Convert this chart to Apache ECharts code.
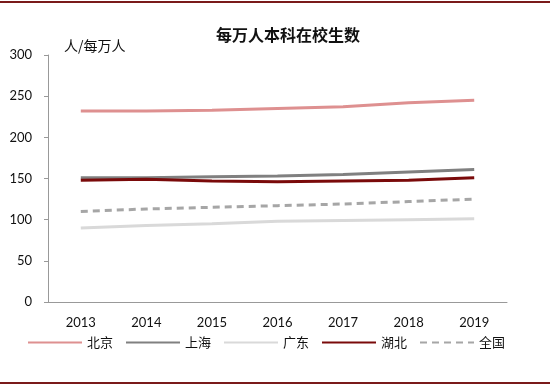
<!DOCTYPE html>
<html><head><meta charset="utf-8">
<script src="https://cdn.jsdelivr.net/npm/echarts@6/dist/echarts.min.js"></script>
<style>html,body{margin:0;padding:0;background:#fff}#c{width:550px;height:387px}</style>
</head><body><div id="c"></div>
<script>
const years = ['2013','2014','2015','2016','2017','2018','2019'];
const beijing = [232, 232, 233, 235, 237, 242, 245];
const shanghai = [151, 151, 152, 153, 155, 158, 161];
const guangdong = [90, 93, 95, 98, 99, 100, 101];
const hubei = [148, 149, 147, 146, 147, 148, 151];
const national = [110, 113, 115, 117, 119, 122, 125];
const yTicks = [0, 50, 100, 150, 200, 250, 300];

const cjk = '"Noto Sans CJK SC", sans-serif';
const num = 'Lato, "Open Sans", sans-serif';
function line(name, data, color, width, type) {
  return { name, type: 'line', data, symbol: 'none', smooth: false,
    lineStyle: { color, width, type: type || 'solid' }, itemStyle: { color } };
}
const chart = echarts.init(document.getElementById('c'));
chart.setOption({
  animation: false,
  title: { text: '每万人本科在校生数', left: 211, top: 22,
    textStyle: { fontFamily: cjk, fontSize: 16, fontWeight: 'bold', color: '#111' } },
  grid: { left: 48, right: 43, top: 55, bottom: 85 },
  legend: { bottom: 33, left: 22, itemWidth: 54, itemHeight: 4, itemGap: 12,
    itemStyle: { opacity: 0 },
    textStyle: { fontFamily: cjk, fontSize: 13, color: '#111' },
    data: ['北京', '上海', '广东', '湖北', '全国'] },
  xAxis: { type: 'category', data: years, boundaryGap: true,
    axisLine: { lineStyle: { color: '#999' } },
    axisTick: { inside: true, length: 5, lineStyle: { color: '#999' } },
    axisLabel: { fontFamily: num, fontSize: 13, color: '#111', margin: 14 } },
  yAxis: { type: 'value', min: yTicks[0], max: yTicks[yTicks.length - 1], interval: 50,
    name: '人/每万人', nameGap: 2, nameTextStyle: { fontFamily: cjk, fontSize: 14, color: '#111', align: 'left', padding: [0, 0, 0, 16] },
    axisLine: { show: true, lineStyle: { color: '#999' } },
    axisTick: { show: true, length: 4, lineStyle: { color: '#999' } },
    splitLine: { show: false },
    axisLabel: { fontFamily: num, fontSize: 13, color: '#111', margin: 16 } },
  series: [
    line('北京', beijing, '#DE9090', 3),
    line('上海', shanghai, '#808080', 3),
    line('广东', guangdong, '#D9D9D9', 3),
    line('湖北', hubei, '#7A0A0A', 3),
    line('全国', national, '#A6A6A6', 3, [7, 5])
  ],
  graphic: [
    { type: 'rect', shape: { x: 0, y: 1, width: 550, height: 2 }, style: { fill: '#7A1A1A' } },
    { type: 'rect', shape: { x: 0, y: 382, width: 550, height: 2 }, style: { fill: '#7A1A1A' } }
  ]
});
</script></body></html>
